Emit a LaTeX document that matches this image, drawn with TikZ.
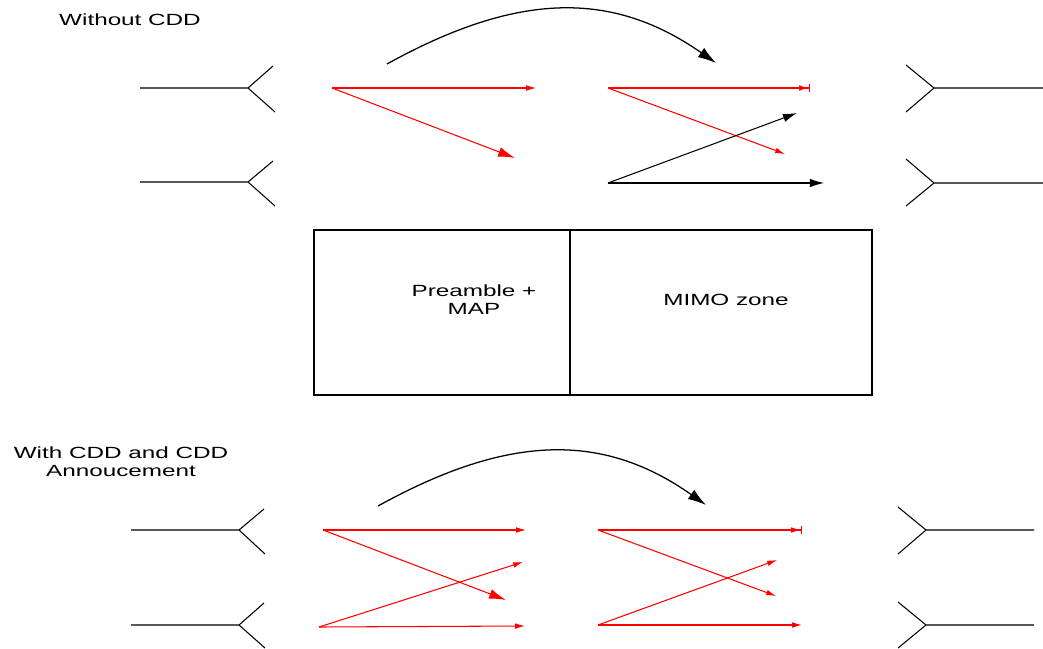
\documentclass[tikz,border=0pt]{standalone}
\usepackage{fontspec}
\setmainfont[FakeStretch=1.5]{Liberation Sans}
\usetikzlibrary{arrows.meta}

\tikzset{
	ant/.style={line width=0.75pt, black},
	sig/.style={line width=0.75pt, red, -{Latex[length=7pt,width=4pt]}},
	bigsig/.style={line width=0.75pt, red, -{Latex[length=12pt,width=7pt]}},
	endsig/.style={line width=0.75pt, red, -{Latex[length=7pt,width=4pt]Bar[width=6pt,line width=0.75pt]}},
	blk/.style={line width=0.75pt, black, -{Latex[length=10pt,width=6pt]}},
	hop/.style={line width=0.9pt, black, -{Latex[length=13pt,width=8pt]}},
	lbl/.style={font=\fontsize{11.5}{12.8}\selectfont, align=center, inner sep=0pt}
}

\begin{document}
\begin{tikzpicture}[x=0.025cm, y=-0.025cm]
	\useasboundingbox (0,0) rectangle (1043,649);

	% without CDD
	\node[lbl] (t1) at (130,20) {Without CDD};

	\coordinate (l1) at (140,88);   \coordinate (f1) at (248,88);
	\coordinate (l1u) at (273,66);  \coordinate (l1d) at (275,112);
	\coordinate (l2) at (140,182);  \coordinate (f2) at (248,182);
	\coordinate (l2u) at (273,161); \coordinate (l2d) at (275,206);
	\draw[ant] (l1) -- (f1) -- (l1u);
	\draw[ant] (f1) -- (l1d);
	\draw[ant] (l2) -- (f2) -- (l2u);
	\draw[ant] (f2) -- (l2d);

	\coordinate (r1) at (1043,88);  \coordinate (g1) at (934,88);
	\coordinate (r1u) at (906,65);  \coordinate (r1d) at (906,112);
	\coordinate (r2) at (1043,183); \coordinate (g2) at (934,183);
	\coordinate (r2u) at (906,159); \coordinate (r2d) at (906,206);
	\draw[ant] (r1) -- (g1) -- (r1u);
	\draw[ant] (g1) -- (r1d);
	\draw[ant] (r2) -- (g2) -- (r2u);
	\draw[ant] (g2) -- (r2d);

	\coordinate (s1) at (332,88);
	\coordinate (s1a) at (536,88);
	\coordinate (s1b) at (515,158);
	\draw[sig] (s1) -- (s1a);
	\draw[bigsig] (s1) -- (s1b);

	\coordinate (c1) at (387,64);
	\coordinate (c1e) at (716,63);
	\draw[hop] (c1) .. controls (519,-9) and (613,-9) .. (c1e);

	\coordinate (m1) at (608,88);   \coordinate (m1a) at (810,88);
	\coordinate (m1b) at (785,154);
	\coordinate (m2) at (608,183);  \coordinate (m2a) at (797,113);
	\coordinate (m2b) at (824,183);
	\draw[endsig] (m1) -- (m1a);
	\draw[sig] (m1) -- (m1b);
	\draw[blk] (m2) -- (m2a);
	\draw[blk] (m2) -- (m2b);

	% frame
	\coordinate (b1) at (314,230);
	\coordinate (b2) at (872,395);
	\coordinate (bt) at (570,230);
	\coordinate (bb) at (570,395);
	\draw[ant] (b1) rectangle (b2);
	\draw[ant] (bt) -- (bb);
	\node[lbl] (pre) at (474,300) {Preamble +\\MAP};
	\node[lbl] (mimo) at (726,300) {MIMO zone};

	% with CDD
	\node[lbl] (t2) at (121,462) {With CDD and CDD\\Annoucement};

	\coordinate (k1) at (131,530);  \coordinate (h1) at (239,530);
	\coordinate (k1u) at (264,509); \coordinate (k1d) at (265,554);
	\coordinate (k2) at (131,625);  \coordinate (h2) at (239,625);
	\coordinate (k2u) at (264,603); \coordinate (k2d) at (265,648);
	\draw[ant] (k1) -- (h1) -- (k1u);
	\draw[ant] (h1) -- (k1d);
	\draw[ant] (k2) -- (h2) -- (k2u);
	\draw[ant] (h2) -- (k2d);

	\coordinate (q1) at (1034,530); \coordinate (p1) at (926,530);
	\coordinate (q1u) at (898,507); \coordinate (q1d) at (898,554);
	\coordinate (q2) at (1034,625); \coordinate (p2) at (926,625);
	\coordinate (q2u) at (898,602); \coordinate (q2d) at (898,648);
	\draw[ant] (q1) -- (p1) -- (q1u);
	\draw[ant] (p1) -- (q1d);
	\draw[ant] (q2) -- (p2) -- (q2u);
	\draw[ant] (p2) -- (q2d);

	\coordinate (c2) at (378,506);
	\coordinate (c2e) at (706,505);
	\draw[hop] (c2) .. controls (510,433) and (604,433) .. (c2e);

	\coordinate (u1) at (323,530);  \coordinate (u1a) at (526,530);
	\coordinate (u1b) at (506,600);
	\coordinate (u2) at (319,627);  \coordinate (u2a) at (523,562);
	\coordinate (u2b) at (525,626);
	\draw[sig] (u1) -- (u1a);
	\draw[bigsig] (u1) -- (u1b);
	\draw[sig] (u2) -- (u2a);
	\draw[sig] (u2) -- (u2b);

	\coordinate (v1) at (598,530);  \coordinate (v1a) at (802,530);
	\coordinate (v1b) at (776,596);
	\coordinate (v2) at (598,625);  \coordinate (v2a) at (777,560);
	\coordinate (v2b) at (802,625);
	\draw[endsig] (v1) -- (v1a);
	\draw[sig] (v1) -- (v1b);
	\draw[sig] (v2) -- (v2a);
	\draw[sig] (v2) -- (v2b);
\end{tikzpicture}
\end{document}
